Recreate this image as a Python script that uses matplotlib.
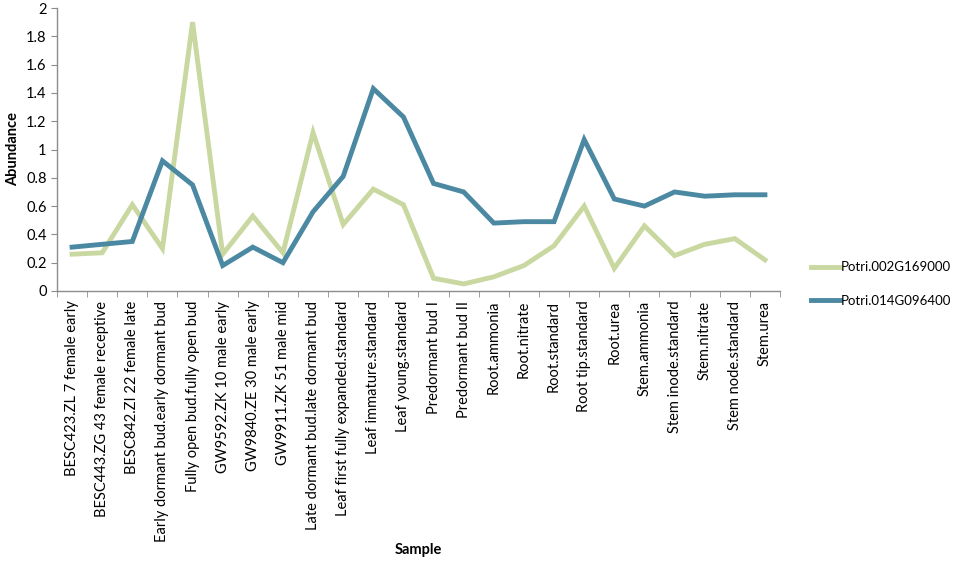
import matplotlib
matplotlib.use("Agg")
import matplotlib.pyplot as plt
from matplotlib.ticker import FixedLocator, FuncFormatter

plt.rcParams['font.family'] = ['Lato', 'DejaVu Sans']

SAMPLES = [
    "BESC423.ZL 7 female early", "BESC443.ZG 43 female receptive",
    "BESC842.ZI 22 female late", "Early dormant bud.early dormant bud",
    "Fully open bud.fully open bud", "GW9592.ZK 10 male early",
    "GW9840.ZE 30 male early", "GW9911.ZK 51 male mid",
    "Late dormant bud.late dormant bud", "Leaf first fully expanded.standard",
    "Leaf immature.standard", "Leaf young.standard", "Predormant bud I",
    "Predormant bud II", "Root.ammonia", "Root.nitrate", "Root.standard",
    "Root tip.standard", "Root.urea", "Stem.ammonia", "Stem inode.standard",
    "Stem.nitrate", "Stem node.standard", "Stem.urea",
]
POTRI_002G169000 = [0.26, 0.27, 0.61, 0.30, 1.90, 0.26, 0.53, 0.27, 1.12, 0.47,
                    0.72, 0.61, 0.09, 0.05, 0.10, 0.18, 0.32, 0.60, 0.16, 0.46,
                    0.25, 0.33, 0.37, 0.22]
POTRI_014G096400 = [0.31, 0.33, 0.35, 0.92, 0.75, 0.18, 0.31, 0.20, 0.56, 0.81,
                    1.43, 1.23, 0.76, 0.70, 0.48, 0.49, 0.49, 1.07, 0.65, 0.60,
                    0.70, 0.67, 0.68, 0.68]
SERIES = [("Potri.002G169000", POTRI_002G169000, "#c8d8a0"),
          ("Potri.014G096400", POTRI_014G096400, "#4b88a2")]
Y_TICKS = [0, 0.2, 0.4, 0.6, 0.8, 1, 1.2, 1.4, 1.6, 1.8, 2]

fig = plt.figure(figsize=(9.57, 5.63), dpi=100)
ax = fig.add_axes([57 / 957, 1 - 291 / 563, (780 - 57) / 957, (291 - 8) / 563])

x = list(range(len(SAMPLES)))
for name, vals, color in SERIES:
    ax.plot(x, vals, color=color, lw=3.5, label=name, solid_joinstyle="miter")

ax.set_xlim(-0.5, len(SAMPLES) - 0.5)
ax.set_ylim(0, 2)
ax.set_yticks(Y_TICKS)
ax.yaxis.set_major_formatter(FuncFormatter(lambda v, _: f"{v:g}"))
ax.set_xticks(x)
ax.set_xticklabels(SAMPLES, rotation=90, fontsize=10.5)
ax.xaxis.set_minor_locator(FixedLocator([i - 0.5 for i in range(len(SAMPLES) + 1)]))
ax.tick_params(axis="x", which="major", length=0, pad=7)
ax.tick_params(axis="x", which="minor", length=4, color="#8c8c8c", direction="out")
ax.tick_params(axis="y", length=4, color="#8c8c8c", labelsize=10.5)

for side in ("top", "right"):
    ax.spines[side].set_visible(False)
for side in ("left", "bottom"):
    ax.spines[side].set_color("#8c8c8c")
    ax.spines[side].set_linewidth(1.0)

ax.set_ylabel("Abundance", fontsize=10.5, fontweight="bold", labelpad=4)
fig.text(418 / 957, 1 - 550 / 563, "Sample", ha="center", va="center",
         fontsize=10.5, fontweight="bold")

ax.legend(loc="center left", bbox_to_anchor=(804 / 957, 1 - 284 / 563),
          bbox_transform=fig.transFigure, frameon=False, fontsize=9.5,
          handlelength=2.2, handletextpad=0.05, labelspacing=1.6, borderpad=0)

fig.savefig("out.png", dpi=100)
